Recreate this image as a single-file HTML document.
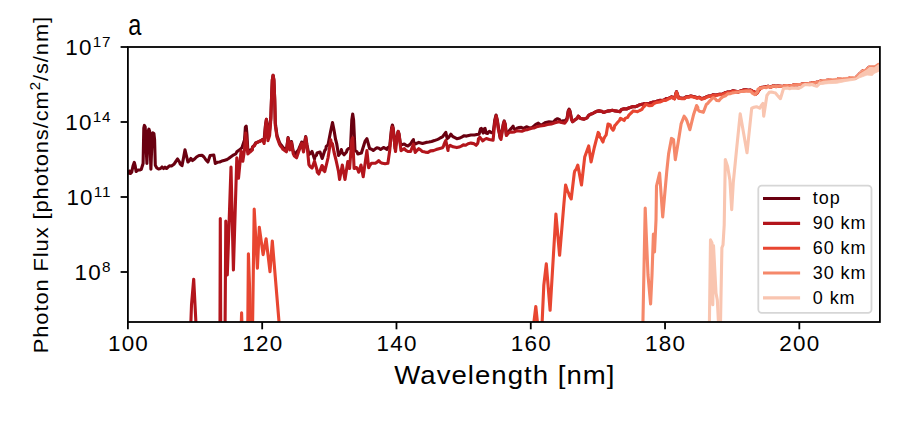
<!DOCTYPE html>
<html><head><meta charset="utf-8"><style>
html,body{margin:0;padding:0;background:#fff;}
svg{display:block;}
text{font-family:"Liberation Sans",sans-serif;fill:#000;}
</style></head><body>
<svg width="917" height="439" viewBox="0 0 917 439">
<rect width="917" height="439" fill="#fff"/>
<defs><clipPath id="ax"><rect x="127.9" y="47.0" width="752.0" height="275.0"/></clipPath></defs>
<g clip-path="url(#ax)" fill="none" stroke-width="3.1" stroke-linejoin="round" stroke-linecap="butt">
<polyline points="128.0,174.5 129.5,171.0 130.5,173.5 131.7,172.2 133.0,166.0 134.3,162.4 135.2,166.0 136.1,171.5 138.0,170.0 140.0,170.0 141.3,169.3 143.1,163.5 143.8,128.0 144.4,125.4 145.2,127.0 146.9,163.5 148.2,131.0 148.9,129.1 149.6,131.0 150.9,169.3 152.2,134.0 152.8,132.8 153.9,133.5 154.6,140.0 155.3,165.3 156.8,168.0 158.5,169.0 160.5,168.5 162.0,167.0 163.5,168.5 165.0,167.2 166.5,168.5 169.4,165.8 171.5,166.0 173.9,164.3 175.5,162.0 177.6,159.0 179.5,162.0 180.3,164.1 182.0,165.6 183.5,158.0 185.0,149.8 186.5,156.0 187.9,162.0 189.6,160.4 190.9,158.5 192.5,160.5 194.6,159.0 196.5,157.0 199.0,155.5 202.0,155.3 204.0,157.0 206.0,160.0 207.9,162.0 210.1,155.5 213.8,155.0 215.3,163.5 217.4,162.3 219.7,162.0 221.8,161.1 224.0,160.5 226.4,159.8 228.6,158.5 230.3,157.2 232.0,156.0 233.8,154.8 235.8,153.9 236.8,151.8 240.0,149.5 242.0,147.6 244.5,140.0 245.4,127.0 246.2,126.2 247.0,135.0 247.9,152.0 250.0,150.0 252.2,149.5 252.5,146.9 254.5,145.2 255.6,143.0 258.0,142.0 260.5,141.0 262.5,139.5 264.0,141.0 265.5,125.0 266.4,119.4 267.3,125.0 267.9,138.0 269.5,131.0 270.8,118.0 271.5,99.0 272.3,80.0 273.1,75.3 273.9,80.0 274.7,99.0 275.3,123.0 277.0,135.5 279.5,142.5 280.5,144.3 281.9,145.8 283.0,147.5 284.7,148.8 286.4,150.0 287.5,142.0 288.1,137.5 289.0,142.0 290.0,147.0 291.5,141.5 293.2,151.0 294.5,153.0 296.6,154.0 296.8,151.7 298.4,150.0 299.2,148.0 300.1,146.0 301.0,144.0 301.7,142.0 303.5,148.0 305.7,136.5 307.0,145.0 308.9,154.4 310.7,153.2 312.0,151.5 314.5,159.0 314.9,156.8 316.5,155.1 317.0,153.0 320.0,152.0 322.2,158.5 324.8,150.5 326.0,148.8 326.2,146.4 328.0,145.0 330.5,132.0 332.5,122.5 334.0,130.0 335.5,139.0 336.8,144.2 338.6,155.5 339.8,153.6 341.0,151.8 341.4,149.5 342.1,152.5 344.1,154.8 346.5,152.0 347.1,149.9 348.7,148.5 350.5,148.0 351.8,120.0 352.7,114.0 353.6,120.0 355.0,150.5 357.0,151.8 357.8,154.0 361.4,153.0 364.2,144.0 365.1,141.1 366.9,138.7 369.6,148.5 371.6,149.2 373.3,150.4 375.1,149.1 376.9,147.8 378.9,148.3 380.6,149.5 383.5,147.5 385.3,148.4 387.0,149.5 387.8,147.5 389.7,146.5 391.6,128.0 392.4,125.0 393.2,128.0 395.1,148.5 397.5,134.0 398.2,131.4 399.0,134.0 400.6,145.0 404.3,144.0 406.0,145.3 407.9,146.0 410.5,144.0 411.9,141.7 413.4,139.6 413.7,142.0 415.2,144.0 418.8,142.4 422.5,143.5 426.1,142.4 428.9,142.0 431.6,141.5 434.4,140.6 437.1,139.6 438.9,138.8 440.6,137.7 442.5,136.9 444.1,134.6 445.8,132.3 447.2,138.7 449.0,137.0 450.9,134.2 452.2,135.9 453.9,137.2 456.8,138.7 460.0,138.0 462.1,136.9 464.2,135.7 466.5,136.1 468.7,135.5 470.9,135.0 474.5,135.0 476.8,134.5 479.1,134.2 480.5,129.0 481.3,128.3 482.2,131.0 483.2,133.0 484.2,129.0 485.0,128.3 486.2,133.0 487.5,133.5 489.4,131.3 491.5,132.8 493.3,132.0 494.8,120.0 496.1,115.0 497.3,120.0 498.5,128.0 500.1,138.0 501.5,134.0 503.3,124.0 504.2,120.9 505.2,124.0 506.4,135.0 508.0,132.8 509.4,130.5 511.3,128.4 513.1,126.1 513.7,128.2 515.3,129.8 516.8,128.2 519.0,127.6 521.3,127.3 523.5,128.3 526.4,126.8 530.1,128.3 532.2,127.5 533.8,126.1 535.8,124.3 538.3,123.1 541.2,125.4 543.4,123.8 545.7,122.4 549.0,121.8 551.1,122.1 553.1,122.4 555.0,120.2 557.5,118.7 559.6,119.6 560.5,121.7 562.6,120.8 564.9,120.9 567.0,118.5 568.2,111.0 569.1,109.1 570.0,111.0 571.5,119.0 572.6,121.7 575.0,119.8 577.2,118.4 578.3,116.1 580.5,118.5 584.2,119.1 587.0,117.9 588.7,115.4 590.5,114.2 592.7,113.5 594.6,112.4 596.7,111.3 599.1,110.9 601.4,111.2 603.5,112.4 605.5,111.8 607.3,111.1 609.4,110.9 612.3,110.3 615.3,110.9 617.6,111.3 619.8,111.7 621.5,109.5 624.2,108.7 626.5,109.0 628.7,108.0 630.9,107.2 633.1,106.5 635.3,106.7 637.2,106.1 639.0,105.0 641.0,104.6 643.0,104.1 645.0,103.5 648.0,103.9 650.9,102.8 652.8,102.1 654.9,102.0 656.8,101.3 659.7,100.4 662.7,100.5 664.7,99.8 666.4,98.5 668.6,98.3 671.6,96.8 674.5,98.5 676.5,91.8 678.5,97.7 682.0,98.3 684.3,98.1 686.3,96.8 688.6,96.8 690.8,96.1 692.9,96.6 695.0,97.0 697.1,97.8 699.5,97.3 701.5,98.7 704.1,98.0 706.5,96.8 709.0,96.0 711.0,96.0 712.9,94.8 715.0,95.0 717.0,94.8 719.5,94.3 722.2,94.3 724.5,93.0 727.2,92.1 730.0,92.0 732.7,90.9 735.6,91.4 738.2,91.8 740.7,90.9 743.1,90.1 745.6,89.7 748.1,90.3 750.6,90.1 752.5,91.1 754.5,91.9 755.7,93.9 757.4,92.7 758.2,90.8 759.6,89.3 760.7,87.6 763.2,87.2 765.7,86.8 768.2,86.3 770.7,87.0 773.2,85.8 775.7,86.3 778.0,86.0 780.4,86.2 782.7,86.5 785.0,85.8 787.0,85.5 789.1,86.2 791.1,85.7 793.0,85.2 795.0,84.8 797.0,84.8 799.0,84.5 801.0,84.3 803.0,84.0 805.0,83.8 807.5,83.8 809.9,83.4 812.3,82.9 814.6,83.0 816.7,82.3 818.9,81.9 820.9,81.0 823.2,81.1 825.4,80.5 827.7,80.2 830.0,79.9 832.4,80.8 834.7,80.6 836.9,79.7 838.8,78.7 840.9,79.3 843.0,79.9 844.9,78.5 846.9,78.8 849.0,78.3 851.2,77.6 853.5,78.4 855.6,77.9 857.8,76.0 859.7,73.8 861.3,72.4 862.9,70.8 865.2,70.5 867.0,69.3 869.7,67.0 872.0,67.1 874.2,67.5 876.6,66.6 878.9,65.6 881.0,64.2" stroke="#6a0010" /><polyline points="190.9,322.0 191.5,305.0 193.7,279.2 195.9,322.0" stroke="#b3151c" /><polyline points="220.0,323.0 220.3,218.5 220.7,323.0" stroke="#b3151c" /><polyline points="225.1,323.0 225.8,221.0 227.3,275.0 231.0,167.1 233.4,270.0 236.8,157.8 238.5,178.3 241.1,151.0 242.8,161.2 244.5,150.0 245.7,133.0 246.5,140.0 247.9,154.0 250.0,152.0 252.2,150.1 252.5,147.4 254.5,145.6 255.6,143.3 259.0,141.5 262.5,139.9 264.2,143.5 265.5,126.0 266.4,119.4 267.3,126.0 267.9,140.7 269.6,135.5 270.8,120.0 271.5,99.2 272.3,80.0 273.1,75.3 273.9,80.0 274.7,99.2 275.3,125.4 277.0,137.3 279.5,144.2 280.5,146.0 281.9,147.6 283.0,149.3 284.7,150.6 286.4,151.8 288.1,138.2 289.8,150.0 291.5,142.5 293.2,153.6 294.4,156.1 296.6,157.8 299.2,150.1 301.7,143.3 303.5,152.0 305.7,137.3 307.5,150.0 308.9,164.7 310.2,166.6 312.0,168.1 314.5,161.2 317.0,170.0 317.3,172.3 318.8,174.0 322.0,165.5 323.3,167.3 323.1,169.9 324.8,171.5 328.0,158.0 330.8,139.9 331.1,142.2 332.5,144.0 334.0,152.0 336.0,160.0 338.5,171.5 339.6,179.5 342.3,165.0 345.0,179.5 347.8,161.5 349.6,168.5 351.8,140.0 352.7,137.8 354.1,168.5 356.5,167.5 357.8,169.8 358.7,172.2 361.0,165.0 363.2,176.8 366.9,150.6 368.7,167.8 369.8,165.4 371.5,163.3 375.1,163.3 377.1,162.2 378.7,160.6 380.3,162.3 382.4,163.3 385.1,163.8 387.9,163.3 389.7,150.6 391.6,130.0 392.4,126.9 393.2,130.0 395.5,151.5 397.5,134.0 398.2,131.4 399.0,134.0 401.0,150.6 404.3,148.7 405.9,150.3 407.9,151.5 410.6,151.5 413.4,144.2 415.2,152.4 416.9,150.5 418.8,148.7 420.7,150.1 422.5,151.5 425.2,152.1 428.0,152.4 430.5,150.9 433.4,150.6 436.1,149.6 438.9,148.7 442.5,147.8 443.5,146.1 444.1,144.1 444.9,142.3 445.8,140.5 448.0,150.5 448.3,147.6 450.2,145.3 453.1,146.8 456.8,147.6 459.1,147.1 461.3,146.1 463.3,144.9 465.7,145.3 468.1,143.8 470.9,143.1 473.7,143.6 476.1,145.3 477.6,143.5 478.2,141.3 478.4,139.0 479.8,137.2 481.3,139.1 482.8,140.9 484.4,139.5 486.3,138.5 489.4,139.4 493.1,140.2 494.8,122.0 496.1,115.7 497.3,121.0 498.3,129.0 501.0,139.4 503.3,125.0 504.2,121.7 505.2,125.0 506.4,135.5 508.0,133.5 510.1,132.0 512.2,132.1 514.4,132.0 516.6,130.8 519.0,131.0 521.8,131.3 525.0,130.0 527.1,129.7 529.2,129.1 531.4,128.2 533.8,128.0 536.6,126.8 540.0,126.0 542.0,125.7 544.0,125.4 547.5,124.5 551.4,123.9 555.0,122.8 558.8,121.7 561.5,122.5 564.8,123.1 567.0,120.0 568.2,112.0 569.1,110.0 570.0,112.0 571.5,119.5 572.6,121.7 575.0,119.8 577.2,118.4 578.3,116.1 580.5,118.5 584.2,119.1 587.0,117.9 588.7,115.4 590.5,114.2 592.7,113.5 594.6,112.4 596.7,111.3 599.1,110.9 601.4,111.2 603.5,112.4 605.5,111.8 607.3,111.1 609.4,110.9 612.3,110.3 615.3,110.9 617.6,111.3 619.8,111.7 621.5,109.5 624.2,108.7 626.5,109.0 628.7,108.0 630.9,107.2 633.1,106.5 635.3,106.7 637.2,106.1 639.0,105.0 641.0,104.6 643.0,104.1 645.0,103.5 648.0,103.9 650.9,102.8 652.8,102.1 654.9,102.0 656.8,101.3 659.7,100.4 662.7,100.5 664.7,99.8 666.4,98.5 668.6,98.3 671.6,96.8 674.5,98.5 676.5,91.8 678.5,97.7 682.0,98.3 684.3,98.1 686.3,96.8 688.6,96.8 690.8,96.1 692.9,96.6 695.0,97.0 697.1,97.8 699.5,97.3 701.5,98.7 704.1,98.0 706.5,96.8 709.0,96.0 711.0,96.0 712.9,94.8 715.0,95.0 717.0,94.8 719.5,94.3 722.2,94.3 724.5,93.0 727.2,92.1 730.0,92.0 732.7,90.9 735.6,91.4 738.2,91.8 740.7,90.9 743.1,90.1 745.6,89.7 748.1,90.3 750.6,90.1 752.5,91.1 754.5,91.9 755.7,93.9 757.4,92.7 758.2,90.8 759.6,89.3 760.7,87.6 763.2,87.2 765.7,86.8 768.2,86.3 770.7,87.0 773.2,85.8 775.7,86.3 778.0,86.0 780.4,86.2 782.7,86.5 785.0,85.8 787.0,85.5 789.1,86.2 791.1,85.7 793.0,85.2 795.0,84.8 797.0,84.8 799.0,84.5 801.0,84.3 803.0,84.0 805.0,83.8 807.5,83.8 809.9,83.4 812.3,82.9 814.6,83.0 816.7,82.3 818.9,81.9 820.9,81.0 823.2,81.1 825.4,80.5 827.7,80.2 830.0,79.9 832.4,80.8 834.7,80.6 836.9,79.7 838.8,78.7 840.9,79.3 843.0,79.9 844.9,78.5 846.9,78.8 849.0,78.3 851.2,77.6 853.5,78.4 855.6,77.9 857.8,76.0 859.7,73.8 861.3,72.4 862.9,70.8 865.2,70.5 867.0,69.3 869.7,67.0 872.0,67.1 874.2,67.5 876.6,66.6 878.9,65.6 881.0,64.2" stroke="#b3151c" /><polyline points="241.3,323.0 241.6,312.7 241.9,323.0" stroke="#e84631" /><polyline points="247.8,323.0 248.4,253.7 250.8,323.0" stroke="#e84631" /><polyline points="252.6,323.0 254.2,209.0 257.4,268.3 259.3,227.3 263.1,254.6 266.1,238.7 270.0,271.7 272.3,241.0 279.1,323.0" stroke="#e84631" /><polyline points="533.8,323.0 535.8,306.5 537.5,323.0" stroke="#e84631" /><polyline points="542.1,323.0 543.8,285.2 546.3,263.9 550.1,310.3 555.9,214.0 559.6,255.3 563.9,203.9 565.6,185.0 567.5,191.0 568.7,193.4 569.5,196.0 571.2,199.0 574.3,173.0 574.8,170.9 576.3,169.1 577.0,167.1 577.8,165.1 581.5,185.0 584.7,157.1 588.7,145.9 591.1,161.9 594.3,147.5 598.2,132.4 599.4,134.1 599.3,136.5 601.0,138.0 601.9,140.1 603.0,142.0 603.6,139.4 604.7,137.0 606.2,134.8 608.0,124.0 610.2,125.0 611.2,127.8 613.1,130.2 614.2,128.2 614.6,125.9 616.1,124.2 617.7,122.3 619.4,120.5 620.5,118.3 622.4,119.4 624.2,120.5 625.2,118.4 627.6,117.4 628.7,115.4 630.2,113.9 631.7,112.5 633.1,110.9 635.3,111.3 637.5,111.7 639.7,110.5 642.0,109.4 643.0,107.5 644.6,106.0 645.7,104.2 649.4,105.7 652.1,105.4 654.0,103.5 656.8,102.4 659.8,102.0 661.7,101.2 663.6,100.4 665.7,100.5 668.6,98.8 671.6,97.3 674.5,99.0 676.5,92.3 678.5,98.2 682.0,98.8 684.3,98.6 686.3,97.3 688.6,97.3 690.8,96.6 692.9,97.1 695.0,97.5 697.1,98.3 699.5,97.8 701.5,99.2 704.1,98.5 706.5,97.3 709.0,96.5 711.0,96.5 712.9,95.3 715.0,95.5 717.0,95.3 719.5,94.8 722.2,94.8 724.5,93.5 727.2,92.6 730.0,92.5 732.7,91.4 735.6,91.9 738.2,92.3 740.7,91.4 743.1,90.6 745.6,90.2 748.1,90.8 750.6,90.5 752.5,91.4 754.5,92.2 755.7,94.2 757.4,93.0 758.2,91.1 759.6,89.6 760.7,87.9 763.2,87.5 765.7,87.1 768.2,86.6 770.7,87.3 773.2,86.1 775.7,86.6 778.0,86.2 780.4,86.3 782.7,86.5 785.0,85.8 787.0,85.5 789.1,86.2 791.1,85.7 793.0,85.2 795.0,84.8 797.0,84.8 799.0,84.5 801.0,84.3 803.0,84.0 805.0,83.8 807.5,83.8 809.9,83.4 812.3,82.9 814.6,83.0 816.7,82.3 818.9,81.9 820.9,81.0 823.2,81.1 825.4,80.5 827.7,80.2 830.0,79.9 832.4,80.8 834.7,80.6 836.9,79.7 838.8,78.7 840.9,79.3 843.0,79.9 844.9,78.5 846.9,78.8 849.0,78.3 851.2,77.6 853.5,78.4 855.6,77.9 857.8,76.0 859.7,73.8 861.3,72.4 862.9,70.8 865.2,70.5 867.0,69.3 869.7,67.0 872.0,67.1 874.2,67.5 876.6,66.6 878.9,65.6 881.0,64.2" stroke="#e84631" /><polyline points="642.9,323.0 645.2,208.0 646.5,240.0 648.0,275.0 650.6,304.0 652.0,275.0 653.4,234.0 654.5,252.0 656.0,220.0 656.5,186.0 659.6,173.0 662.7,217.0 666.8,171.0 668.6,153.9 671.5,138.4 673.5,139.5 675.3,159.7 678.2,142.3 681.1,123.9 684.1,116.2 685.8,118.4 687.0,121.0 689.9,129.7 693.7,114.2 696.6,105.5 697.8,107.3 697.9,109.7 699.6,111.3 703.4,112.3 706.3,104.5 707.9,103.2 709.2,101.6 711.1,99.6 713.1,97.7 715.1,98.6 716.6,100.4 718.9,100.7 720.7,98.6 722.8,96.8 725.5,95.8 727.6,93.9 730.1,93.7 732.5,92.9 734.8,92.5 737.0,92.0 739.2,91.8 741.5,91.5 743.7,91.5 746.0,91.1 748.3,91.1 750.6,91.0 752.4,93.2 754.9,94.7 756.4,93.2 757.7,91.6 757.9,89.2 759.7,88.0 761.9,88.2 763.9,87.3 766.2,87.7 768.2,86.6 770.7,87.3 773.2,86.1 775.7,86.6 778.0,86.2 780.4,86.3 782.7,86.5 785.0,85.8 787.0,85.5 789.1,86.2 791.1,85.7 793.0,85.2 795.0,84.8 797.0,84.8 799.0,84.5 801.0,84.3 803.0,84.0 805.0,83.8 807.5,83.8 809.9,83.4 812.3,82.9 814.6,83.0 816.7,82.3 818.9,81.9 820.9,81.0 823.2,81.1 825.4,80.5 827.7,80.2 830.0,79.9 832.4,80.8 834.7,80.6 836.9,79.7 838.8,78.7 840.9,79.3 843.0,79.9 844.9,78.5 846.9,78.8 849.0,78.3 851.2,77.6 853.5,78.4 855.6,77.9 857.8,76.0 859.7,73.8 861.3,72.4 862.9,70.8 865.2,70.5 867.0,69.3 869.7,67.0 872.0,67.1 874.2,67.5 876.6,66.6 878.9,65.6 881.0,64.2" stroke="#f5886a" /><polyline points="709.4,323.0 710.5,239.8 712.0,243.0 712.8,304.7 713.5,245.5 716.0,293.0 717.3,300.0 718.5,323.0" stroke="#f9c5b0" /><polyline points="720.5,323.0 721.9,247.8 723.0,245.0 724.2,225.0 725.3,159.6 727.6,166.4 729.9,180.1 731.7,209.7 733.3,182.4 736.7,148.2 740.2,113.8 743.7,133.7 747.0,152.8 751.7,108.2 754.0,107.3 756.5,106.7 759.7,108.2 761.1,105.7 762.9,103.5 763.7,116.2 766.9,95.5 769.2,92.3 771.4,92.0 773.5,92.6 775.6,93.1 777.1,95.0 778.8,96.9 780.4,98.7 783.6,88.3 785.6,88.3 787.6,87.9 789.6,88.7 791.6,88.0 793.8,88.1 796.1,88.1 798.3,88.5 800.7,87.4 802.8,85.9 805.0,84.5 807.3,84.8 809.7,84.9 812.0,84.5 814.4,85.5 816.8,86.3 818.5,84.7 820.0,83.0 822.6,83.0 825.2,82.2 827.8,82.2" stroke="#f9c5b0" /><polygon points="820.0,80.5 823.2,79.6 836.9,78.2 846.9,77.3 855.6,76.4 859.7,72.3 867.0,67.8 869.7,65.5 874.2,66.0 877.9,63.2 881.0,62.8 881.0,71.0 878.8,71.4 874.0,73.5 872.4,75.5 867.0,75.1 859.7,77.8 855.1,80.1 846.0,81.4 836.9,83.3 827.8,83.7 820.0,84.5" fill="#f9c5b0" stroke="#f9c5b0" stroke-width="0.8"/><polyline points="820.0,81.1 823.2,80.2 836.9,78.8 846.9,77.9 855.6,77.0 859.7,72.9 867.0,68.4 869.7,66.1 874.2,66.6 877.9,63.8 881.0,63.4" stroke="#f5886a" stroke-width="1.2" />
</g>
<g stroke="#000" stroke-width="1.8"><line x1="127.90" y1="322.0" x2="127.90" y2="329.30"/><line x1="262.19" y1="322.0" x2="262.19" y2="329.30"/><line x1="396.47" y1="322.0" x2="396.47" y2="329.30"/><line x1="530.76" y1="322.0" x2="530.76" y2="329.30"/><line x1="665.04" y1="322.0" x2="665.04" y2="329.30"/><line x1="799.33" y1="322.0" x2="799.33" y2="329.30"/><line x1="120.60" y1="47" x2="127.9" y2="47"/><line x1="120.60" y1="122" x2="127.9" y2="122"/><line x1="120.60" y1="197" x2="127.9" y2="197"/><line x1="120.60" y1="272" x2="127.9" y2="272"/></g>
<rect x="127.9" y="47.0" width="752.0" height="275.0" fill="none" stroke="#000" stroke-width="1.8" stroke-linejoin="miter"/>
<g font-size="22"><text transform="translate(128.50,351) scale(1.02,1)" letter-spacing="1.2" text-anchor="middle">100</text><text transform="translate(262.79,351) scale(1.02,1)" letter-spacing="1.2" text-anchor="middle">120</text><text transform="translate(397.07,351) scale(1.02,1)" letter-spacing="1.2" text-anchor="middle">140</text><text transform="translate(531.36,351) scale(1.02,1)" letter-spacing="1.2" text-anchor="middle">160</text><text transform="translate(665.64,351) scale(1.02,1)" letter-spacing="1.2" text-anchor="middle">180</text><text transform="translate(799.93,351) scale(1.02,1)" letter-spacing="1.2" text-anchor="middle">200</text><text transform="translate(111.3,55) scale(1.02,1)" letter-spacing="1.2" text-anchor="end">10<tspan dy="-8.5" font-size="15" letter-spacing="0.8">17</tspan></text><text transform="translate(111.3,130) scale(1.02,1)" letter-spacing="1.2" text-anchor="end">10<tspan dy="-8.5" font-size="15" letter-spacing="0.8">14</tspan></text><text transform="translate(111.3,205) scale(1.02,1)" letter-spacing="1.2" text-anchor="end">10<tspan dy="-8.5" font-size="15" letter-spacing="0.8">11</tspan></text><text transform="translate(111.3,280) scale(1.02,1)" letter-spacing="1.2" text-anchor="end">10<tspan dy="-8.5" font-size="15" letter-spacing="0.8">8</tspan></text></g>
<g>
<rect x="758.3" y="185.6" width="113.2" height="127.2" rx="3.5" fill="#fff" fill-opacity="0.8" stroke="#d6d6d6" stroke-width="1.8"/>
<g font-size="17"><line x1="763" y1="198.50" x2="800.1" y2="198.50" stroke="#6a0010" stroke-width="3.1"/><text transform="translate(812.8,204.10) scale(1.03,1)" letter-spacing="0.9" font-size="17.5">top</text><line x1="763" y1="223.35" x2="800.1" y2="223.35" stroke="#b3151c" stroke-width="3.1"/><text transform="translate(812.8,228.95) scale(1.03,1)" letter-spacing="0.9" font-size="17.5">90 km</text><line x1="763" y1="248.20" x2="800.1" y2="248.20" stroke="#e84631" stroke-width="3.1"/><text transform="translate(812.8,253.80) scale(1.03,1)" letter-spacing="0.9" font-size="17.5">60 km</text><line x1="763" y1="273.05" x2="800.1" y2="273.05" stroke="#f5886a" stroke-width="3.1"/><text transform="translate(812.8,278.65) scale(1.03,1)" letter-spacing="0.9" font-size="17.5">30 km</text><line x1="763" y1="297.90" x2="800.1" y2="297.90" stroke="#f9c5b0" stroke-width="3.1"/><text transform="translate(812.8,303.50) scale(1.03,1)" letter-spacing="0.9" font-size="17.5">0 km</text></g>
</g>
<text transform="translate(128.3,35) scale(0.81,1)" font-size="29">a</text>
<text transform="translate(504.9,384) scale(1.04,1)" letter-spacing="1.0" font-size="26.5" text-anchor="middle">Wavelength [nm]</text>
<text transform="translate(47.5,184.6) rotate(-90) scale(1.04,1)" letter-spacing="0.9" font-size="21" text-anchor="middle">Photon Flux [photons/cm<tspan dy="-8" font-size="14.5">2</tspan><tspan dy="8">/s/nm]</tspan></text>
</svg>
</body></html>
